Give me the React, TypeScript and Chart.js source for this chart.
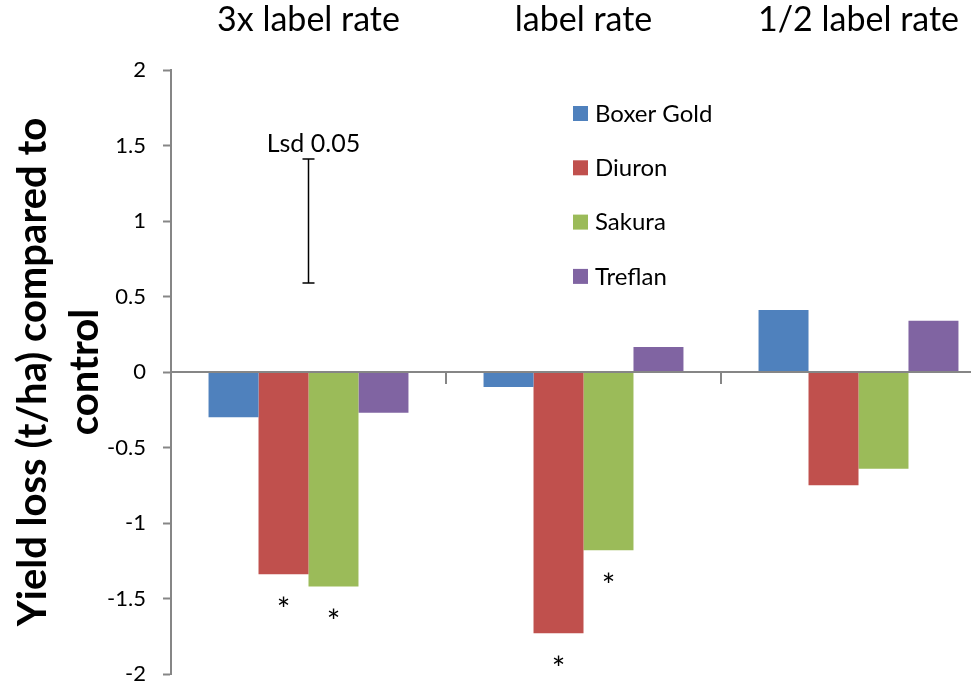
import React, { useEffect, useRef } from 'react';
import { Chart, registerables } from 'chart.js';

Chart.register(...registerables);

// ---- data ----
const categories = ['3x label rate', 'label rate', '1/2 label rate'];
const seriesNames = ['Boxer Gold', 'Diuron', 'Sakura', 'Treflan'];
const boxerGold = [-0.3, -0.1, 0.41];
const diuron = [-1.34, -1.73, -0.75];
const sakura = [-1.42, -1.18, -0.64];
const treflan = [-0.27, 0.165, 0.34];
// significance asterisks per series, per category
const significant = [
  [false, false, false],
  [true, true, false],
  [true, true, false],
  [false, false, false],
];
const yMin = -2;
const yMax = 2;
const yStep = 0.5;
const lsdCategory = 0;
const lsdCenter = 1.0;
const lsdHalf = 0.41;
const lsdLabel = 'Lsd 0.05';
const yTitleLines = ['Yield loss (t/ha) compared to', 'control'];

// ---- style ----
const colors = ['#4F81BD', '#C0504D', '#9BBB59', '#8064A2'];
const FONT = 'Lato, Carlito, Calibri, "Open Sans", sans-serif';
const AXIS = '#868686';

const overlay = {
  id: 'overlay',
  afterDatasetsDraw(chart: any) {
    const ctx = chart.ctx;
    const xs = chart.scales.x;
    const ys = chart.scales.y;
    const area = chart.chartArea;
    const y0 = ys.getPixelForValue(0);
    ctx.save();

    // zero line and category boundary ticks
    ctx.strokeStyle = AXIS;
    ctx.lineWidth = 2;
    ctx.beginPath();
    ctx.moveTo(area.left, y0);
    ctx.lineTo(area.right, y0);
    const n = categories.length;
    for (let i = 1; i <= n; i++) {
      const px = Math.round(area.left + ((area.right - area.left) * i) / n);
      ctx.moveTo(px, y0);
      ctx.lineTo(px, y0 + 12);
    }
    ctx.stroke();

    // asterisks
    ctx.fillStyle = '#000';
    ctx.font = `32px ${FONT}`;
    ctx.textAlign = 'center';
    ctx.textBaseline = 'alphabetic';
    chart.data.datasets.forEach((ds: any, di: number) => {
      const meta = chart.getDatasetMeta(di);
      meta.data.forEach((bar: any, i: number) => {
        if (significant[di][i]) ctx.fillText('*', bar.x, bar.y + 47);
      });
    });

    // LSD bar
    const lx = Math.round(xs.getPixelForValue(lsdCategory)) - 0.5;
    const lt = ys.getPixelForValue(lsdCenter + lsdHalf);
    const lb = ys.getPixelForValue(lsdCenter - lsdHalf);
    ctx.strokeStyle = '#000';
    ctx.lineWidth = 1.5;
    ctx.beginPath();
    ctx.moveTo(lx, lt);
    ctx.lineTo(lx, lb);
    ctx.moveTo(lx - 6, lt);
    ctx.lineTo(lx + 6, lt);
    ctx.moveTo(lx - 6, lb);
    ctx.lineTo(lx + 6, lb);
    ctx.stroke();
    ctx.font = `25px ${FONT}`;
    ctx.textBaseline = 'alphabetic';
    ctx.fillText(lsdLabel, lx + 5, lt - 7);

    // legend
    ctx.font = `24px ${FONT}`;
    ctx.textAlign = 'left';
    ctx.textBaseline = 'middle';
    chart.data.datasets.forEach((ds: any, di: number) => {
      const cy = 113 + di * 54.3;
      ctx.fillStyle = ds.backgroundColor;
      ctx.fillRect(573, cy - 7, 15, 15);
      ctx.fillStyle = '#000';
      ctx.fillText(ds.label, 595, cy + 1);
    });

    // y axis title
    ctx.font = `bold 40px ${FONT}`;
    ctx.textAlign = 'center';
    ctx.textBaseline = 'alphabetic';
    const cyT = (area.top + area.bottom) / 2;
    const baselines = [46, 98];
    yTitleLines.forEach((line, i) => {
      ctx.save();
      ctx.translate(baselines[i], cyT);
      ctx.rotate(-Math.PI / 2);
      ctx.fillText(line, 0, 0);
      ctx.restore();
    });

    ctx.restore();
  },
};

export default function App() {
  const ref = useRef<HTMLCanvasElement | null>(null);

  useEffect(() => {
    if (!ref.current) return;
    const seriesValues = [boxerGold, diuron, sakura, treflan];
    const chart = new Chart(ref.current, {
      type: 'bar',
      data: {
        labels: categories,
        datasets: seriesNames.map((name, i) => ({
          label: name,
          data: seriesValues[i],
          backgroundColor: colors[i],
          borderWidth: 0,
          categoryPercentage: 0.727,
          barPercentage: 1,
        })),
      },
      options: {
        responsive: false,
        animation: false,
        layout: { padding: { left: 0, right: 4, top: 0, bottom: 14 } },
        plugins: {
          legend: { display: false },
          tooltip: { enabled: false },
        },
        scales: {
          x: {
            position: 'top',
            grid: { display: false, drawTicks: false },
            border: { display: false },
            ticks: {
              color: '#000',
              font: { family: FONT, size: 34 },
              padding: 30,
              maxRotation: 0,
              autoSkip: false,
            },
            afterFit: (s: any) => {
              s.height = 70;
            },
          },
          y: {
            min: yMin,
            max: yMax,
            grid: {
              drawOnChartArea: false,
              drawTicks: true,
              tickLength: 8,
              tickColor: AXIS,
              tickWidth: 2,
            },
            border: { display: true, color: AXIS, width: 2 },
            ticks: {
              stepSize: yStep,
              color: '#000',
              font: { family: FONT, size: 22 },
              padding: 17,
              callback: (v: any) => String(Number(v)),
            },
            afterFit: (s: any) => {
              s.width = 171;
              s.paddingTop = 0;
              s.paddingBottom = 0;
            },
          },
        },
      },
      plugins: [overlay],
    });
    return () => chart.destroy();
  }, []);

  return (
    <div
      style={{
        position: 'absolute',
        left: 0,
        top: 0,
        width: 971,
        height: 688,
        overflow: 'hidden',
        background: '#fff',
      }}
    >
      <canvas ref={ref} width={1000} height={688} style={{ width: 1000, height: 688, display: 'block' }} />
    </div>
  );
}
